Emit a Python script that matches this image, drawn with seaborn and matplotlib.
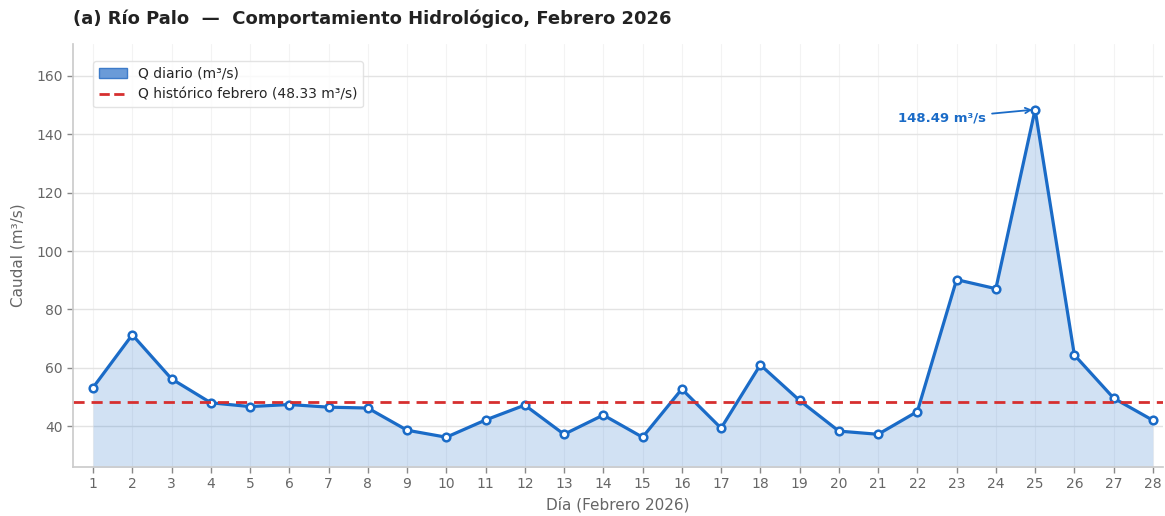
import numpy as np
import pandas as pd
import seaborn as sns
import matplotlib.pyplot as plt
from matplotlib.patches import Patch
from matplotlib.lines import Line2D

# datos del mes
dias = list(range(1, 29))
caudal = [53.2, 71.3, 56.2, 48.0, 46.7, 47.4, 46.5, 46.2, 38.6, 36.2,
          42.1, 47.2, 37.2, 43.8, 36.2, 52.7, 39.3, 61.0, 48.8, 38.3,
          37.2, 45.0, 90.2, 87.1, 148.49, 64.4, 49.6, 42.0]
q_historico = 48.33

df = pd.DataFrame({"dia": dias, "caudal": caudal})

sns.set_theme(style="whitegrid")
plt.rcParams['font.family'] = ['DejaVu Sans']

azul = "#1a6bc7"
rojo = "#d62f2f"

fig, ax = plt.subplots(figsize=(11.65, 5.16), dpi=100)
fig.subplots_adjust(left=0.063, right=0.998, top=0.915, bottom=0.095)

ax.fill_between(df["dia"], df["caudal"], 0, color=azul, alpha=0.2, linewidth=0)
sns.lineplot(data=df, x="dia", y="caudal", ax=ax, color=azul, linewidth=2.3,
             marker="o", markersize=5.5, markerfacecolor="white",
             markeredgecolor=azul, markeredgewidth=1.8)
ax.axhline(q_historico, color=rojo, linestyle="--", linewidth=2, dashes=(4, 2.5))

# pico
i_max = int(np.argmax(caudal))
ax.annotate(f"{caudal[i_max]:.2f} m³/s", xy=(dias[i_max], caudal[i_max]),
            xytext=(dias[i_max] - 1.25, caudal[i_max] - 3), ha="right", va="center",
            fontsize=9.5, fontweight="bold", color=azul,
            arrowprops=dict(arrowstyle="->", color=azul, lw=1.3))

ax.set_xlim(0.5, 28.25)
ax.set_ylim(26, 171)
ax.set_xticks(dias)
ax.set_yticks([40, 60, 80, 100, 120, 140, 160])
ax.grid(axis="y", color="#e3e3e3", linewidth=1)
ax.grid(axis="x", color="#f3f3f3", linewidth=0.8)

for s in ["top", "right"]:
    ax.spines[s].set_visible(False)
for s in ["left", "bottom"]:
    ax.spines[s].set_color("#cccccc")
ax.tick_params(axis="both", colors="#666666", labelsize=10, length=4, width=1, color="#888888",
               left=True, bottom=True)

ax.set_xlabel("Día (Febrero 2026)", color="#666666", fontsize=11)
ax.set_ylabel("Caudal (m³/s)", color="#666666", fontsize=11, labelpad=8)
ax.set_title("(a) Río Palo  —  Comportamiento Hidrológico, Febrero 2026",
             loc="left", fontsize=13, fontweight="bold", color="#222222", pad=14)

handles = [Patch(facecolor="#6a9bd8", edgecolor="#3d7bc9", label="Q diario (m³/s)"),
           Line2D([0], [0], color=rojo, linestyle="--", linewidth=2,
                  label=f"Q histórico febrero ({q_historico:.2f} m³/s)")]
ax.legend(handles=handles, loc="upper left", fontsize=10, frameon=True,
          facecolor="white", edgecolor="#dddddd", bbox_to_anchor=(0.012, 0.975))

fig.savefig("out.png", dpi=100)
